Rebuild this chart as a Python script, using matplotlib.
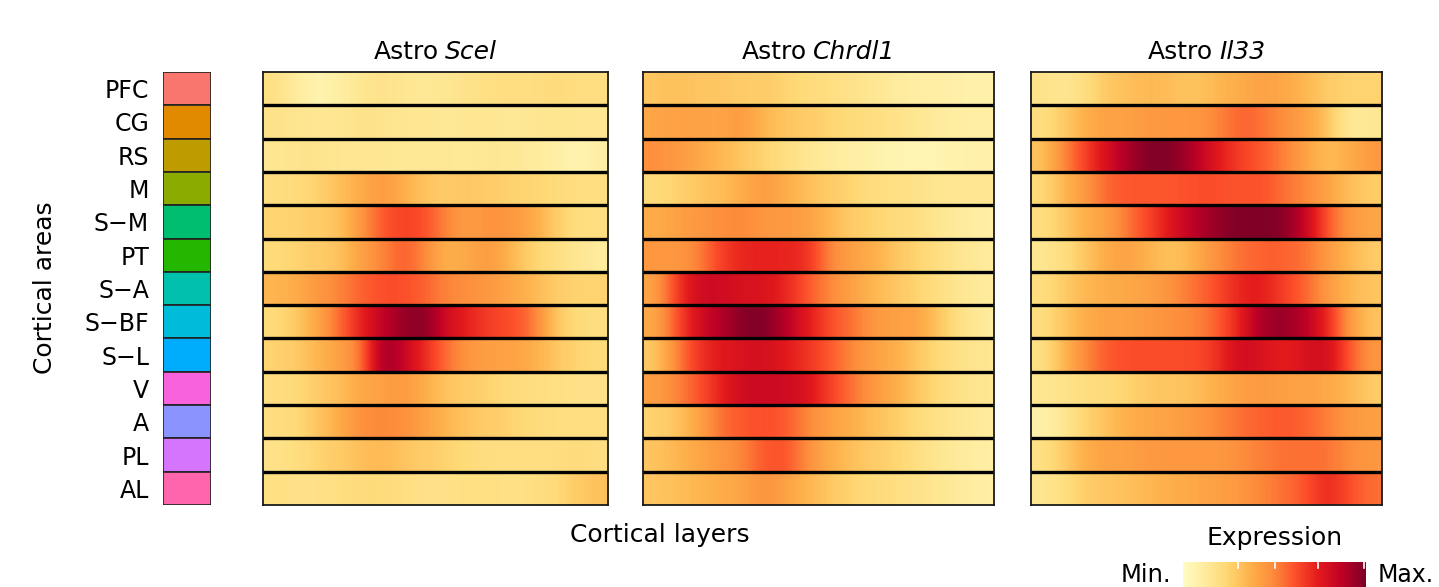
import numpy as np
import matplotlib
matplotlib.use("Agg")
import matplotlib.pyplot as plt
from matplotlib.colors import ListedColormap

plt.rcParams['font.family'] = ['DejaVu Sans']

areas = ["PFC", "CG", "RS", "M", "S\u2212M", "PT", "S\u2212A", "S\u2212BF", "S\u2212L", "V", "A", "PL", "AL"]
area_colors = ["#F8766D", "#E18A00", "#BE9C00", "#8CAB00", "#00BE70", "#24B700",
               "#00C1AB", "#00BBDA", "#00ACFC", "#F962DD", "#8B93FF", "#D575FE", "#FF65AC"]

genes = ["Scel", "Chrdl1", "Il33"]

scel = [
    [0.20, 0.12, 0.06, 0.10, 0.15, 0.18, 0.15, 0.14, 0.15, 0.18, 0.20, 0.20, 0.20, 0.22, 0.20, 0.20],
    [0.18, 0.16, 0.15, 0.15, 0.18, 0.17, 0.15, 0.15, 0.14, 0.15, 0.15, 0.14, 0.15, 0.16, 0.15, 0.15],
    [0.15, 0.17, 0.17, 0.15, 0.15, 0.15, 0.14, 0.14, 0.14, 0.13, 0.15, 0.14, 0.12, 0.10, 0.06, 0.10],
    [0.20, 0.22, 0.25, 0.32, 0.38, 0.45, 0.38, 0.30, 0.28, 0.30, 0.28, 0.25, 0.25, 0.22, 0.20, 0.20],
    [0.25, 0.25, 0.28, 0.30, 0.45, 0.60, 0.65, 0.62, 0.50, 0.42, 0.48, 0.45, 0.40, 0.28, 0.20, 0.20],
    [0.22, 0.25, 0.28, 0.30, 0.42, 0.50, 0.60, 0.50, 0.35, 0.40, 0.45, 0.35, 0.25, 0.20, 0.15, 0.12],
    [0.35, 0.38, 0.45, 0.50, 0.58, 0.62, 0.62, 0.58, 0.50, 0.48, 0.45, 0.40, 0.35, 0.28, 0.25, 0.25],
    [0.22, 0.28, 0.40, 0.55, 0.72, 0.85, 0.95, 0.98, 0.80, 0.72, 0.65, 0.62, 0.55, 0.30, 0.22, 0.20],
    [0.25, 0.28, 0.35, 0.42, 0.50, 0.95, 0.85, 0.70, 0.55, 0.45, 0.42, 0.42, 0.38, 0.30, 0.25, 0.22],
    [0.20, 0.22, 0.28, 0.32, 0.40, 0.42, 0.45, 0.38, 0.30, 0.28, 0.25, 0.22, 0.20, 0.20, 0.18, 0.18],
    [0.20, 0.22, 0.30, 0.38, 0.48, 0.50, 0.48, 0.42, 0.35, 0.30, 0.28, 0.25, 0.22, 0.20, 0.20, 0.20],
    [0.18, 0.20, 0.25, 0.28, 0.32, 0.35, 0.30, 0.28, 0.25, 0.22, 0.20, 0.20, 0.20, 0.20, 0.22, 0.20],
    [0.20, 0.18, 0.18, 0.20, 0.22, 0.22, 0.20, 0.18, 0.18, 0.20, 0.20, 0.18, 0.20, 0.22, 0.28, 0.32],
]

chrdl1 = [
    [0.30, 0.32, 0.30, 0.30, 0.28, 0.28, 0.25, 0.22, 0.20, 0.18, 0.15, 0.12, 0.10, 0.10, 0.08, 0.08],
    [0.40, 0.42, 0.42, 0.40, 0.45, 0.35, 0.30, 0.28, 0.25, 0.22, 0.20, 0.18, 0.15, 0.12, 0.10, 0.10],
    [0.48, 0.45, 0.40, 0.35, 0.30, 0.25, 0.20, 0.15, 0.12, 0.10, 0.08, 0.06, 0.06, 0.06, 0.08, 0.08],
    [0.22, 0.25, 0.30, 0.32, 0.38, 0.45, 0.38, 0.32, 0.28, 0.25, 0.20, 0.20, 0.18, 0.15, 0.15, 0.15],
    [0.38, 0.42, 0.45, 0.48, 0.50, 0.45, 0.45, 0.42, 0.35, 0.28, 0.25, 0.22, 0.20, 0.15, 0.12, 0.10],
    [0.45, 0.45, 0.50, 0.65, 0.72, 0.72, 0.72, 0.70, 0.50, 0.42, 0.38, 0.30, 0.25, 0.20, 0.15, 0.12],
    [0.40, 0.65, 0.82, 0.82, 0.78, 0.78, 0.72, 0.60, 0.50, 0.42, 0.35, 0.30, 0.25, 0.20, 0.15, 0.12],
    [0.38, 0.60, 0.80, 0.88, 0.98, 1.00, 0.88, 0.75, 0.62, 0.55, 0.45, 0.42, 0.42, 0.30, 0.18, 0.12],
    [0.28, 0.50, 0.68, 0.75, 0.78, 0.80, 0.75, 0.68, 0.60, 0.50, 0.42, 0.38, 0.30, 0.22, 0.18, 0.15],
    [0.42, 0.50, 0.60, 0.72, 0.82, 0.82, 0.82, 0.78, 0.65, 0.55, 0.45, 0.38, 0.30, 0.22, 0.18, 0.15],
    [0.25, 0.30, 0.40, 0.55, 0.60, 0.62, 0.60, 0.50, 0.42, 0.38, 0.32, 0.28, 0.22, 0.18, 0.15, 0.12],
    [0.30, 0.35, 0.40, 0.45, 0.50, 0.60, 0.62, 0.48, 0.38, 0.32, 0.28, 0.25, 0.20, 0.15, 0.12, 0.10],
    [0.30, 0.32, 0.35, 0.38, 0.40, 0.48, 0.42, 0.35, 0.30, 0.25, 0.22, 0.20, 0.18, 0.15, 0.12, 0.10],
]

il33 = [
    [0.18, 0.15, 0.20, 0.30, 0.32, 0.35, 0.32, 0.30, 0.35, 0.38, 0.42, 0.40, 0.35, 0.28, 0.25, 0.25],
    [0.20, 0.28, 0.38, 0.42, 0.42, 0.45, 0.45, 0.45, 0.50, 0.58, 0.55, 0.48, 0.42, 0.32, 0.12, 0.15],
    [0.30, 0.50, 0.65, 0.80, 0.92, 1.00, 0.98, 0.88, 0.75, 0.65, 0.60, 0.52, 0.42, 0.32, 0.38, 0.45],
    [0.22, 0.35, 0.45, 0.58, 0.60, 0.60, 0.60, 0.62, 0.62, 0.60, 0.62, 0.55, 0.50, 0.42, 0.32, 0.28],
    [0.20, 0.28, 0.38, 0.42, 0.55, 0.65, 0.78, 0.88, 0.95, 1.00, 1.00, 0.98, 0.85, 0.60, 0.45, 0.40],
    [0.15, 0.20, 0.30, 0.40, 0.42, 0.35, 0.30, 0.38, 0.48, 0.55, 0.58, 0.58, 0.55, 0.45, 0.35, 0.28],
    [0.20, 0.28, 0.35, 0.38, 0.40, 0.42, 0.48, 0.55, 0.62, 0.72, 0.75, 0.65, 0.58, 0.45, 0.35, 0.30],
    [0.20, 0.30, 0.38, 0.42, 0.42, 0.45, 0.48, 0.50, 0.58, 0.72, 0.92, 0.95, 0.88, 0.72, 0.45, 0.30],
    [0.18, 0.35, 0.50, 0.60, 0.62, 0.62, 0.62, 0.62, 0.68, 0.82, 0.78, 0.72, 0.78, 0.82, 0.60, 0.45],
    [0.15, 0.18, 0.20, 0.22, 0.25, 0.30, 0.30, 0.32, 0.38, 0.42, 0.45, 0.42, 0.42, 0.40, 0.35, 0.28],
    [0.08, 0.15, 0.25, 0.32, 0.38, 0.40, 0.42, 0.45, 0.50, 0.55, 0.58, 0.60, 0.58, 0.52, 0.45, 0.42],
    [0.18, 0.28, 0.38, 0.42, 0.42, 0.45, 0.45, 0.45, 0.45, 0.48, 0.52, 0.55, 0.55, 0.55, 0.48, 0.45],
    [0.15, 0.20, 0.28, 0.30, 0.32, 0.35, 0.38, 0.40, 0.42, 0.45, 0.50, 0.55, 0.60, 0.72, 0.62, 0.55],
]

cbar_ticks = [0.30, 0.50, 0.74, 0.99]

base = plt.get_cmap("YlOrRd")
cmap = ListedColormap(base(np.linspace(0.02, 1.0, 256)))

W, H = 1439, 587
fig = plt.figure(figsize=(W / 100, H / 100), dpi=100)
renderer = fig.canvas.get_renderer()

def fax(x0, y0, x1, y1):
    return fig.add_axes([x0 / W, 1 - y1 / H, (x1 - x0) / W, (y1 - y0) / H])

top, bot = 72, 505
n = len(areas)

# area colour strip
axc = fax(163, top, 211, bot)
ypos = np.arange(n)[::-1] + 0.5
axc.barh(ypos, 1, height=1, left=0, color=area_colors, edgecolor="#222222", linewidth=1.2)
axc.set_xlim(0, 1)
axc.set_ylim(0, n)
axc.set_yticks(ypos)
axc.set_yticklabels(areas, fontsize=17)
axc.tick_params(axis="y", length=0, pad=10)
axc.set_xticks([])
for s in axc.spines.values():
    s.set_visible(False)

panels = [(263, 608, scel), (643, 994, chrdl1), (1031, 1382, il33)]
title_fs = 18
for (x0, x1, data), g in zip(panels, genes):
    ax = fax(x0, top, x1, bot)
    arr = np.array(data)
    for i in range(n):
        ax.imshow(arr[i][None, :], cmap=cmap, vmin=0, vmax=1, aspect="auto",
                  interpolation="bicubic", extent=(0, 1, n - i - 1, n - i))
    for k in range(1, n):
        ax.axhline(k, color="black", lw=2.4)
    ax.set_xlim(0, 1)
    ax.set_ylim(0, n)
    ax.set_xticks([])
    ax.set_yticks([])
    for s in ax.spines.values():
        s.set_linewidth(1.3)
        s.set_color("#1a1a1a")
    # title: "Astro " upright + gene italic, centred over the panel
    ty = 1 - 59 / H
    t1 = fig.text(0, ty, "Astro", fontsize=title_fs, va="baseline")
    t2 = fig.text(0, ty, g, fontsize=title_fs, style="italic", va="baseline")
    w1 = t1.get_window_extent(renderer).width
    w2 = t2.get_window_extent(renderer).width
    gap = 6
    cx = (x0 + x1) / 2
    start = cx - (w1 + gap + w2) / 2
    t1.set_x(start / W)
    t2.set_x((start + w1 + gap) / W)

fig.text(660 / W, 1 - 535 / H, "Cortical layers", ha="center", va="center", fontsize=18)
fig.text(45 / W, 1 - 288 / H, "Cortical areas", ha="center", va="center", fontsize=18, rotation=90)

# colorbar
axb = fax(1183, 562, 1366, 592)
grad = np.linspace(0, 1, 256)[None, :]
axb.imshow(grad, cmap=cmap, aspect="auto", extent=(0, 1, 0, 1))
axb.set_xlim(0, 1)
axb.set_ylim(0, 1)
axb.set_xticks([])
axb.set_yticks([])
for s in axb.spines.values():
    s.set_visible(False)
for t in cbar_ticks:
    axb.plot([t, t], [1, 0.8], color="white", lw=1.2)
fig.text(1275 / W, 1 - 538 / H, "Expression", ha="center", va="center", fontsize=18)
fig.text(1171 / W, 1 - 575 / H, "Min.", ha="right", va="center", fontsize=17.5)
fig.text(1378 / W, 1 - 575 / H, "Max.", ha="left", va="center", fontsize=17)

fig.savefig("out.png", dpi=100)
